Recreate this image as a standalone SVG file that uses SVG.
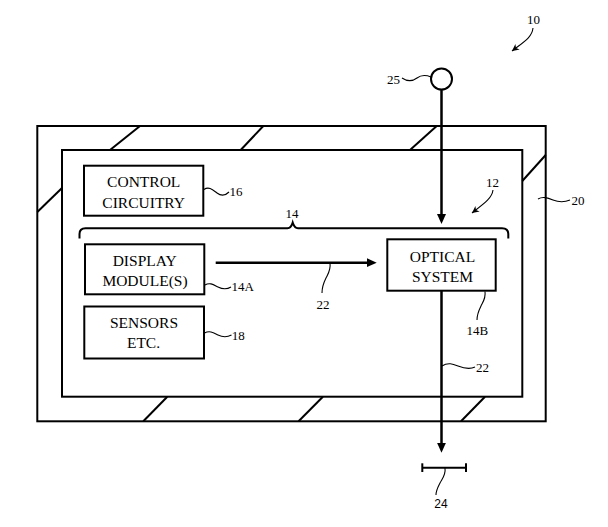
<svg xmlns="http://www.w3.org/2000/svg" width="608" height="527" viewBox="0 0 608 527">
<style>
.frame{fill:none;stroke:#000;stroke-width:2}
.box{fill:#fff;stroke:#000;stroke-width:2}
.hatch{stroke:#000;stroke-width:2;fill:none}
.arrow{stroke:#000;stroke-width:2.5;fill:none}
.lead{stroke:#000;stroke-width:1.1;fill:none}
.t{font-family:"Liberation Serif","Times New Roman",serif;font-size:15.5px;fill:#000;text-anchor:middle}
.lbl{font-family:"Liberation Serif","Times New Roman",serif;font-size:13px;fill:#000}
.sans{font-family:"Liberation Sans",Arial,sans-serif;font-size:12px;fill:#000}
</style>
<defs>
<marker id="ah" markerUnits="userSpaceOnUse" markerWidth="10" markerHeight="10" refX="5" refY="4.5" orient="auto">
<path d="M0,0 L10,4.5 L0,9 z" fill="#000"/>
</marker>
<marker id="sa" markerUnits="userSpaceOnUse" markerWidth="9" markerHeight="9" refX="7" refY="3.5" orient="auto">
<path d="M0,0 L7,3.5 L0,7 L2,3.5 z" fill="#000"/>
</marker>
</defs>
<g id="housing-20">
<rect class="frame" x="37.3" y="126" width="508.4" height="295.3"/>
<rect class="frame" x="62" y="150" width="460.3" height="246.7"/>
<g class="hatch">
<line x1="110" y1="150" x2="140" y2="126"/>
<line x1="240.7" y1="150" x2="263.3" y2="126"/>
<line x1="410" y1="150" x2="436.7" y2="126"/>
<line x1="522.3" y1="181" x2="545.7" y2="155"/>
<line x1="37.3" y1="212" x2="62" y2="188"/>
<line x1="143.3" y1="421.3" x2="167.3" y2="396.7"/>
<line x1="298.6" y1="421.3" x2="322.9" y2="396.7"/>
<line x1="461" y1="421.3" x2="485" y2="396.7"/>
</g>
<path class="lead" d="M538,199 C543,196 548,198 553,200 S563,203 570,200"/>
<text class="lbl" x="571.5" y="204.5">20</text>
</g>
<g id="device-10">
<text class="lbl" x="527" y="24">10</text>
<path class="lead" d="M533,28 C532,37 525,41 512,51" marker-end="url(#sa)"/>
</g>
<g id="eye-25">
<circle cx="441.5" cy="79" r="10.5" fill="#fff" stroke="#000" stroke-width="2"/>
<path class="lead" d="M402,78 C408,82 413,81 417,78 S426,75 431,77"/>
<text class="lbl" x="387" y="83.5">25</text>
</g>
<g id="control-16">
<rect class="box" x="84" y="165.7" width="119.3" height="50"/>
<text class="t" x="143.7" y="186.7">CONTROL</text>
<text class="t" x="143.7" y="207.5">CIRCUITRY</text>
<path class="lead" d="M204,189.5 C209,186 213,190 217,193 S225,196 229,192"/>
<text class="lbl" x="229.5" y="196">16</text>
</g>
<g id="brace-14">
<path d="M79.5,238.5 L79.5,234 Q79.5,228.3 85.5,228.3 L287.5,228.3 Q291,228.3 292.7,222.5 Q294.5,228.3 298,228.3 L502,228.3 Q508.3,228.3 508.3,234 L508.3,238.5" fill="none" stroke="#000" stroke-width="2"/>
<text class="lbl" x="292" y="217.5" text-anchor="middle">14</text>
</g>
<g id="system-12">
<text class="lbl" x="486" y="187">12</text>
<path class="lead" d="M493,190 C492,198 485,203 472,213" marker-end="url(#sa)"/>
</g>
<g id="display-14A">
<rect class="box" x="85" y="244.3" width="119.3" height="50"/>
<text class="t" x="144.7" y="265.5">DISPLAY</text>
<text class="t" x="145" y="285.5">MODULE(S)</text>
<path class="lead" d="M205,285 C210,282 214,285 218,287 S226,290 231,287"/>
<text class="lbl" x="231.5" y="290.5">14A</text>
</g>
<g id="sensors-18">
<rect class="box" x="84.3" y="306.5" width="119.7" height="52"/>
<text class="t" x="144" y="328.3">SENSORS</text>
<text class="t" x="143.5" y="347.5">ETC.</text>
<path class="lead" d="M204.5,333 C210,330 214,333 218,335 S226,338 231.5,335"/>
<text class="lbl" x="231.7" y="339.5">18</text>
</g>
<g id="optical-14B">
<rect class="box" x="387.3" y="239.3" width="108.4" height="51.4"/>
<text class="t" x="442.5" y="261.7">OPTICAL</text>
<text class="t" x="442.5" y="281.7">SYSTEM</text>
<path class="lead" d="M485,291.5 C486,298 483,302 481,306 S477,314 477,320"/>
<text class="lbl" x="466.5" y="334.5">14B</text>
</g>
<g id="eyebox-24">
<g stroke="#000" stroke-width="2">
<line x1="422.3" y1="467.7" x2="466" y2="467.7"/>
<line x1="422.3" y1="463.3" x2="422.3" y2="472"/>
<line x1="466" y1="463.3" x2="466" y2="472"/>
</g>
<path class="lead" d="M445,468 C446,475 442,479 440,483 S436,490 436,495"/>
<text class="sans" x="441" y="507.5" text-anchor="middle">24</text>
</g>
<g id="connectors">
<line class="arrow" x1="441.5" y1="89.5" x2="441.5" y2="219" marker-end="url(#ah)"/>
<line class="arrow" x1="215.7" y1="262.7" x2="371.7" y2="262.7" marker-end="url(#ah)"/>
<line class="arrow" x1="441.5" y1="290.7" x2="441.5" y2="447.7" marker-end="url(#ah)"/>
<path class="lead" d="M330,263 C331,270 328,274 326,278 S322,287 322,293"/>
<text class="lbl" x="323" y="308.5" text-anchor="middle">22</text>
<path class="lead" d="M442,366 C448,362 453,364 458,366 S469,370 475,367"/>
<text class="lbl" x="476" y="371.5">22</text>
</g>
</svg>
